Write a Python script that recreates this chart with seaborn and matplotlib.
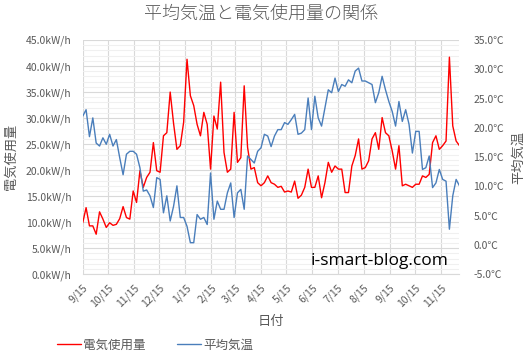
import numpy as np
import pandas as pd
import matplotlib
matplotlib.use("Agg")
import matplotlib.pyplot as plt
import matplotlib.dates as mdates
from matplotlib.ticker import MultipleLocator, FuncFormatter
import seaborn as sns

# 4日おきに読み取った値 (2017/9/15 から)
start_date = "2017-09-15"
step = "4D"
power = [
    9.9, 12.8, 9.3, 9.3, 7.7, 12.0, 10.6, 9.0, 9.9, 9.4,
    9.6, 10.7, 13.0, 10.9, 10.6, 16.0, 13.8, 19.9, 16.7, 18.6,
    19.6, 25.3, 19.9, 19.6, 26.6, 27.2, 35.0, 29.0, 24.0, 24.7,
    29.2, 41.3, 34.3, 32.4, 28.8, 26.6, 31.1, 28.8, 20.2, 30.4,
    27.9, 36.9, 23.4, 19.6, 20.2, 31.1, 21.5, 22.4, 36.2, 24.4,
    20.2, 20.5, 17.6, 17.0, 17.6, 18.9, 17.6, 17.3, 16.7, 16.9,
    15.8, 16.0, 15.8, 17.9, 14.6, 15.2, 16.7, 20.2, 16.7, 16.7,
    18.9, 14.7, 17.6, 21.5, 19.6, 20.8, 20.2, 20.2, 15.7, 15.7,
    20.8, 22.8, 26.0, 20.2, 20.5, 21.8, 26.0, 27.2, 24.0, 30.1,
    27.2, 26.6, 23.7, 20.2, 24.7, 17.0, 17.3, 17.0, 16.7, 17.3,
    17.3, 18.9, 18.6, 19.2, 25.3, 26.6, 24.0, 24.7, 25.6, 41.7,
    28.5, 25.6, 24.7,
]
temp = [
    22.0, 23.1, 18.5, 21.7, 17.4, 16.9, 18.3, 17.2, 18.9, 16.9,
    18.0, 14.9, 12.0, 15.5, 16.0, 16.0, 15.5, 13.2, 9.2, 9.4,
    8.4, 6.4, 11.5, 11.2, 5.5, 8.4, 4.1, 6.6, 10.1, 4.7,
    4.7, 3.2, 0.4, 0.4, 5.2, 4.4, 4.7, 3.5, 12.3, 4.4,
    7.5, 6.1, 6.1, 8.9, 10.6, 4.7, 8.9, 9.5, 6.1, 15.2,
    14.6, 14.0, 16.0, 16.6, 18.9, 18.6, 16.8, 18.6, 19.7, 19.7,
    20.9, 20.6, 21.4, 22.3, 18.9, 19.1, 19.7, 25.1, 19.7, 25.4,
    21.7, 20.3, 23.4, 26.5, 26.0, 28.5, 26.2, 27.4, 27.1, 28.2,
    27.7, 29.7, 30.2, 28.0, 28.0, 27.7, 27.4, 24.3, 26.0, 28.8,
    26.5, 24.5, 22.8, 20.3, 24.5, 21.1, 23.1, 20.6, 15.7, 19.4,
    19.4, 12.9, 13.2, 15.2, 9.8, 10.6, 12.9, 11.2, 10.9, 2.7,
    8.4, 11.2, 10.1,
]
tick_dates = pd.date_range("2017-09-01", "2018-11-01", freq="MS") + pd.Timedelta(days=14)

dates = pd.date_range(start_date, periods=len(power), freq=step)
df = pd.DataFrame({"日付": dates, "電気使用量": power, "平均気温": temp})

sns.set_style("white")
plt.rcParams["font.family"] = ["Noto Sans CJK JP", "DejaVu Sans"]

grey = "#595959"
fig, ax = plt.subplots(figsize=(5.32, 3.59), dpi=100)
fig.subplots_adjust(left=0.1555, right=0.8637, bottom=0.2359, top=0.8886)

sns.lineplot(data=df, x="日付", y="電気使用量", ax=ax, color="#FF0000", lw=1.0)
ax2 = ax.twinx()
sns.lineplot(data=df, x="日付", y="平均気温", ax=ax2, color="#4A7EBB", lw=1.0)

ax.set_ylim(0, 45)
ax.set_yticks(np.arange(0, 46, 5))
ax.yaxis.set_minor_locator(MultipleLocator(1))
ax.yaxis.set_major_formatter(FuncFormatter(lambda v, p: f"{v:.1f}kW/h"))
ax2.set_ylim(-5, 35)
ax2.set_yticks(np.arange(-5, 36, 5))
ax2.yaxis.set_major_formatter(FuncFormatter(lambda v, p: f"{v:.1f}℃"))

ax.set_xlim(dates[0], dates[-1])
ax.set_xticks(tick_dates)
ax.xaxis.set_major_formatter(FuncFormatter(
    lambda v, p: f"{mdates.num2date(v).month}/{mdates.num2date(v).day}"))
plt.setp(ax.get_xticklabels(), rotation=45, ha="right", rotation_mode="anchor")

ax.set_axisbelow(True)
ax.grid(which="major", axis="y", color="#D9D9D9", lw=0.8)
ax.grid(which="minor", axis="y", color="#F0F0F0", lw=0.8)
ax.grid(which="major", axis="x", color="#D9D9D9", lw=0.8)

for a in (ax, ax2):
    for s in a.spines.values():
        s.set_visible(False)
ax.spines["bottom"].set_visible(True)
ax.spines["bottom"].set_color("#D9D9D9")

ax.tick_params(axis="y", which="both", length=0, labelsize=7.5, labelcolor=grey, pad=8)
ax.tick_params(axis="x", length=4, color="#D9D9D9", labelsize=7.5, labelcolor=grey, pad=2)
ax2.tick_params(axis="y", length=0, labelsize=7.5, labelcolor=grey, pad=10)

ax.set_xlabel("日付", fontsize=9.5, color=grey, labelpad=4)
ax.set_ylabel("電気使用量", fontsize=9.5, color=grey, labelpad=6)
ax2.set_ylabel("平均気温", fontsize=9.5, color=grey, rotation=90, labelpad=6)

fig.text(0.49, 1 - 14 / 359, "平均気温と電気使用量の関係", ha="center", va="center",
         fontsize=13, color=grey, fontweight="light")
ax.text(0.788, 0.055, "i-smart-blog.com", transform=ax.transAxes, ha="center",
        va="center", fontsize=12.5, family="Open Sans", color="black")

handles = [ax.lines[0], ax2.lines[0]]
fig.legend(handles, ["電気使用量", "平均気温"], loc="center",
           bbox_to_anchor=(155 / 532, 1 - 345 / 359), ncol=2, frameon=False,
           fontsize=9, handlelength=1.9, handletextpad=0.2, columnspacing=2.5,
           labelcolor=grey)

fig.savefig("out.png", dpi=100)
